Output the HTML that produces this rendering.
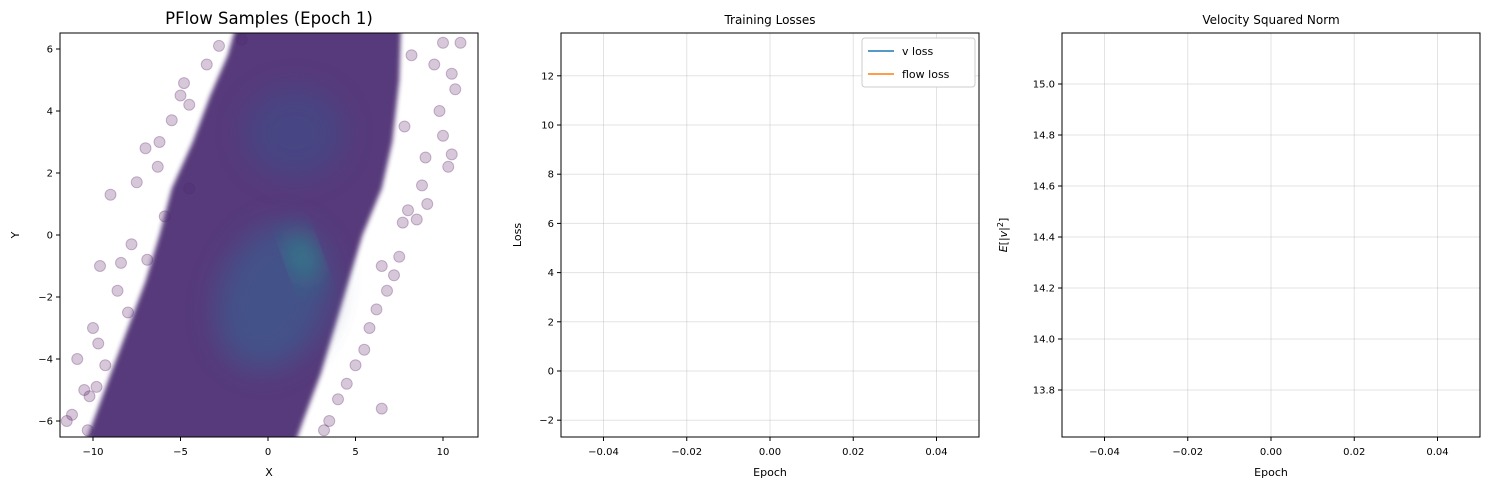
<!DOCTYPE html>
<html><head><meta charset="utf-8"><style>
body{margin:0;background:#fff;}
svg{font-family:"DejaVu Sans","Liberation Sans",sans-serif;}
</style></head><body>
<svg id="fig" width="1489" height="490" viewBox="0 0 1489 490" xmlns="http://www.w3.org/2000/svg">
<defs>
<filter id="blur12" x="-50%" y="-50%" width="200%" height="200%"><feGaussianBlur stdDeviation="14"/></filter>
<filter id="blur3"><feGaussianBlur stdDeviation="2.5"/></filter>
<clipPath id="clip1"><rect x="60" y="33" width="418" height="404"/></clipPath>
</defs>
<g id="p1"></g>
<g id="p2"></g>
<g id="p3"></g>
</svg>
<script>
const NS="http://www.w3.org/2000/svg";
// ---- data ----
const bandLeft=[[-10.5,-6.8],[-9,-4.5],[-8,-3],[-7,-1.5],[-6.2,0],[-5.5,1.5],[-4.3,3],[-3.3,4.5],[-2.3,5.8],[-1.8,6.8]];
const bandRight=[[7.6,6.8],[7.5,5],[7.1,3],[6.5,1.5],[5.4,0],[4.6,-1.5],[3.8,-3],[3,-4.5],[2,-6],[1.5,-6.8]];
const outliers=[[-11.5,-6],[-11.2,-5.8],[-10.5,-5],[-10.2,-5.2],[-10,-3],[-9.7,-3.5],[-9.3,-4.2],[-9.6,-1],[-8.6,-1.8],[-8.4,-0.9],[-7.8,-0.3],[-9,1.3],[-7.5,1.7],[-7,2.8],[-6.3,2.2],[-6.2,3],[-5.5,3.7],[-5,4.5],[-4.8,4.9],[-4.5,4.2],[-3.5,5.5],[-2.8,6.1],[-1.5,6.3],[9.5,5.5],[10,6.2],[11,6.2],[10.5,5.2],[10.7,4.7],[9.8,4],[10,3.2],[9,2.5],[10.5,2.6],[10.3,2.2],[8.8,1.6],[9.1,1],[8.5,0.5],[7.7,0.4],[8,0.8],[7.5,-0.7],[7.2,-1.3],[6.8,-1.8],[6.2,-2.4],[5.8,-3],[5.5,-3.7],[5,-4.2],[4.5,-4.8],[4,-5.3],[6.5,-5.6],[3.5,-6],[-6.9,-0.8],[-8,-2.5],[-9.8,-4.9],[-10.3,-6.3],[-5.9,0.6],[-4.5,1.5],[8.2,5.8],[7.8,3.5],[6.5,-1],[3.2,-6.3],[-10.9,-4]];
const lossTicks=[-2,0,2,4,6,8,10,12];
const xTicks=[-0.04,-0.02,0,0.02,0.04];
const vTicks=[13.8,14.0,14.2,14.4,14.6,14.8,15.0];
const sx1Ticks=[-10,-5,0,5,10], sy1Ticks=[-6,-4,-2,0,2,4,6];
// ---- helpers ----
function el(t,a,p){const e=document.createElementNS(NS,t);for(const k in a)e.setAttribute(k,a[k]);p.appendChild(e);return e;}
function txt(s,a,p){const e=el('text',a,p);e.textContent=s;return e;}
const p1=document.getElementById('p1'),p2=document.getElementById('p2'),p3=document.getElementById('p3');
const X1=v=>268+v*17.5, Y1=v=>235-v*31;
const cg=el('g',{'clip-path':'url(#clip1)'},p1);


outliers.forEach(p=>{const c=el('circle',{cx:X1(p[0]),cy:Y1(p[1]),r:5.5,fill:'#440154','fill-opacity':'0.22',stroke:'#440154','stroke-opacity':'0.25'},cg);

});
const poly=bandLeft.concat(bandRight).map(p=>X1(p[0])+','+Y1(p[1])).join(' ');
const band=el('polygon',{points:poly,fill:'#4a2a70',opacity:'0.92',filter:'url(#blur3)'},cg);


el('ellipse',{cx:X1(1.5),cy:Y1(3.3),rx:50,ry:45,fill:'#3d4d89',opacity:'0.6',filter:'url(#blur12)'},cg);
el('ellipse',{cx:X1(0.3),cy:Y1(-2),rx:55,ry:75,fill:'#3d5a8e',opacity:'0.75',filter:'url(#blur12)',transform:`rotate(20 ${X1(0.3)} ${Y1(-2)})`},cg);
el('ellipse',{cx:X1(2),cy:Y1(-0.7),rx:10,ry:25,fill:'#22a38a',opacity:'0.8',filter:'url(#blur12)',transform:`rotate(-20 ${X1(2)} ${Y1(-0.7)})`},cg);
el('rect',{x:60,y:33,width:418,height:404,fill:'none',stroke:'#000','stroke-width':1},p1);
sx1Ticks.forEach(v=>{const x=X1(v);el('line',{x1:x,x2:x,y1:437,y2:441,stroke:'#000'},p1);txt(String(v).replace('-','−'),{x:x,y:455,'font-size':10,'text-anchor':'middle'},p1);});
sy1Ticks.forEach(v=>{const y=Y1(v);el('line',{x1:56,x2:60,y1:y,y2:y,stroke:'#000'},p1);txt(String(v).replace('-','−'),{x:53,y:y+3.5,'font-size':10,'text-anchor':'end'},p1);});
txt('PFlow Samples (Epoch 1)',{x:269,y:24,'font-size':16.5,'text-anchor':'middle'},p1);
txt('X',{x:269,y:476,'font-size':11,'text-anchor':'middle'},p1);
txt('Y',{x:19,y:235,'font-size':11,'text-anchor':'middle',transform:'rotate(-90 19 235)'},p1);
function panel(p,x0,ticksY,yOf,fmt,title,ylab,ylx){
  const xOf=v=>x0+209+v*4162.5;
  ticksY.forEach(v=>{const y=yOf(v);el('line',{x1:x0,x2:x0+418,y1:y,y2:y,stroke:'#b0b0b0','stroke-opacity':0.35},p);
    el('line',{x1:x0-4,x2:x0,y1:y,y2:y,stroke:'#000'},p);txt(fmt(v),{x:x0-7,y:y+3.5,'font-size':10,'text-anchor':'end'},p);});
  xTicks.forEach(v=>{const x=xOf(v);el('line',{x1:x,x2:x,y1:33,y2:437,stroke:'#b0b0b0','stroke-opacity':0.35},p);
    el('line',{x1:x,x2:x,y1:437,y2:441,stroke:'#000'},p);txt((v<0?'−':'')+Math.abs(v).toFixed(2),{x:x,y:455,'font-size':10,'text-anchor':'middle'},p);});
  el('rect',{x:x0,y:33,width:418,height:404,fill:'none',stroke:'#000'},p);
  txt(title,{x:x0+209,y:24,'font-size':12,'text-anchor':'middle'},p);
  txt('Epoch',{x:x0+209,y:476,'font-size':11,'text-anchor':'middle'},p);
  const t=txt('',{x:ylx,y:235,'font-size':11,'text-anchor':'middle',transform:`rotate(-90 ${ylx} 235)`},p);
  t.innerHTML=ylab;
}
panel(p2,561,lossTicks,v=>371-v*24.6,v=>(v<0?'−':'')+Math.abs(v),'Training Losses','Loss',521);
panel(p3,1062,vTicks,v=>84+(15-v)*255,v=>v.toFixed(1),'Velocity Squared Norm','<tspan font-style="italic">E</tspan>[|<tspan font-style="italic">v</tspan>|<tspan baseline-shift="super" font-size="8">2</tspan>]',1007);
const lg=el('g',{},p2);


el('rect',{x:862,y:38,width:113,height:49,rx:3,fill:'#fff',stroke:'#ccc'},lg);
el('line',{x1:868,x2:894,y1:51,y2:51,stroke:'#1f77b4','stroke-width':1.6},lg);
txt('v loss',{x:902,y:55,'font-size':11},lg);
el('line',{x1:868,x2:894,y1:74,y2:74,stroke:'#ff7f0e','stroke-width':1.6},lg);
txt('flow loss',{x:902,y:78,'font-size':11},lg);
</script>
</body></html>
